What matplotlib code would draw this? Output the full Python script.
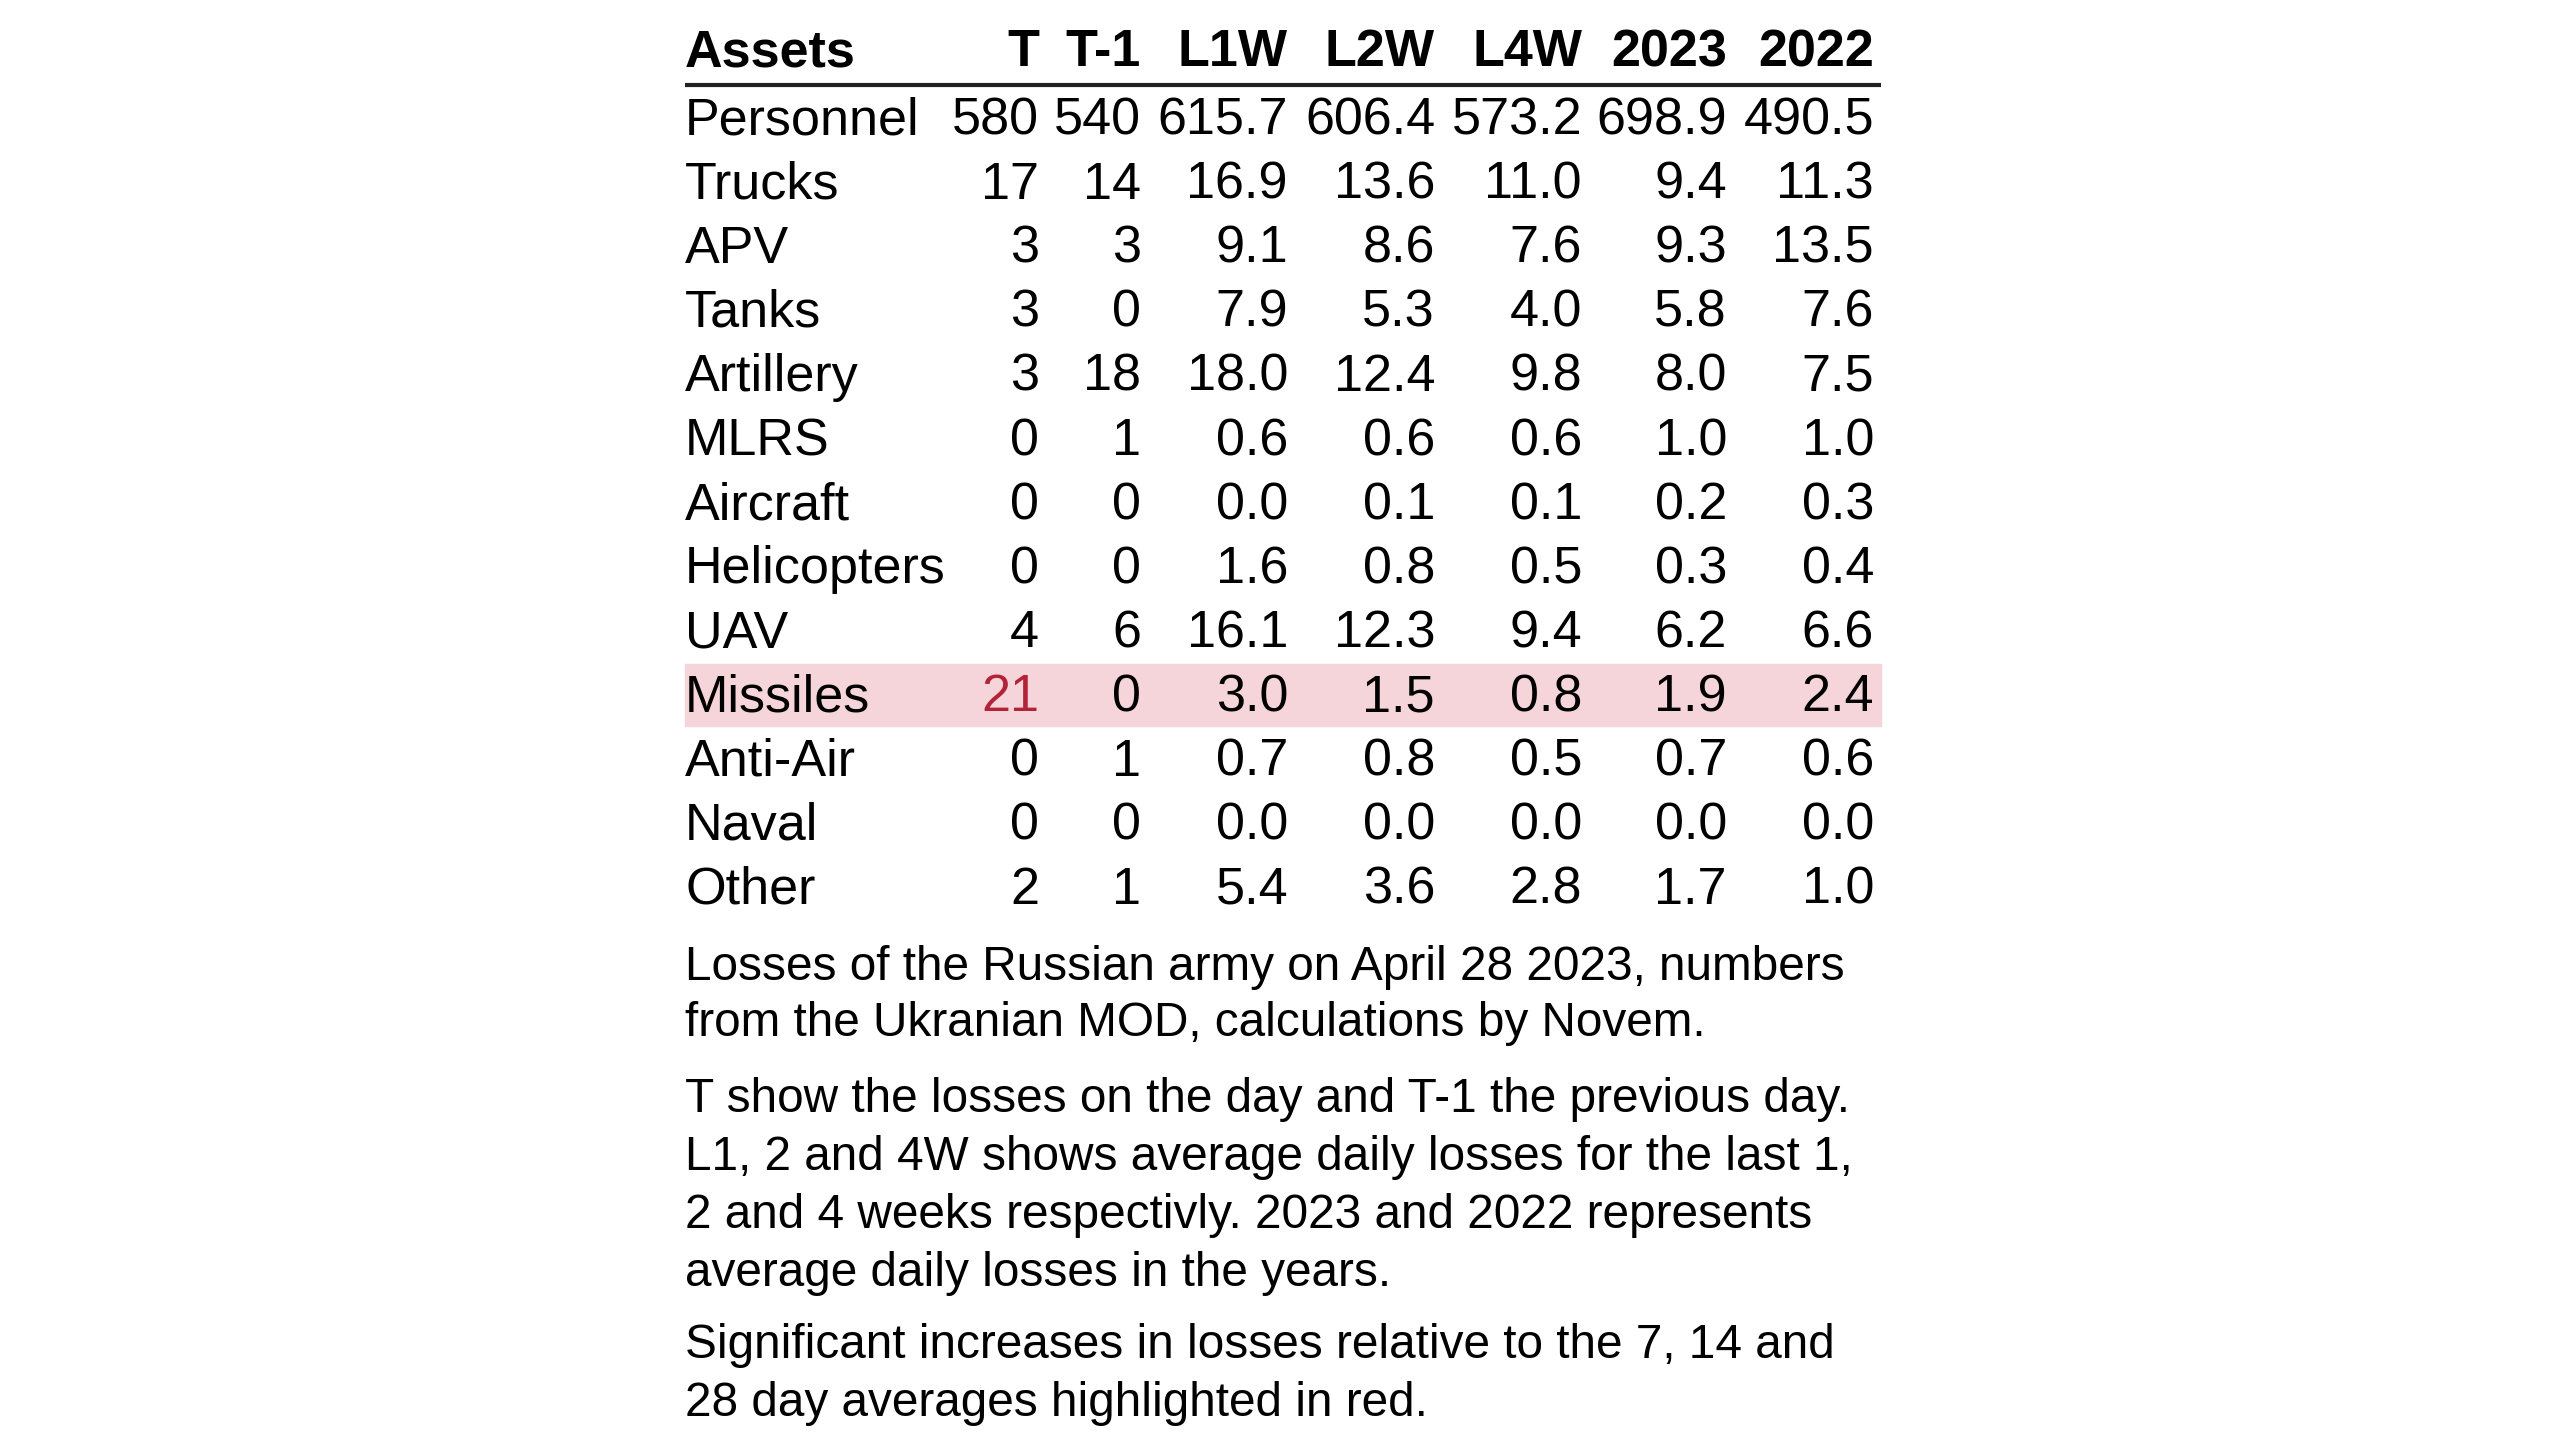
import matplotlib
matplotlib.use("Agg")
import matplotlib.pyplot as plt
from matplotlib.patches import Rectangle

# table data
assets = ["Personnel", "Trucks", "APV", "Tanks", "Artillery", "MLRS", "Aircraft",
          "Helicopters", "UAV", "Missiles", "Anti-Air", "Naval", "Other"]
col_labels = ["T", "T-1", "L1W", "L2W", "L4W", "2023", "2022"]
t_day = [580, 17, 3, 3, 3, 0, 0, 0, 4, 21, 0, 0, 2]
t_prev = [540, 14, 3, 0, 18, 1, 0, 0, 6, 0, 1, 0, 1]
l1w = [615.7, 16.9, 9.1, 7.9, 18.0, 0.6, 0.0, 1.6, 16.1, 3.0, 0.7, 0.0, 5.4]
l2w = [606.4, 13.6, 8.6, 5.3, 12.4, 0.6, 0.1, 0.8, 12.3, 1.5, 0.8, 0.0, 3.6]
l4w = [573.2, 11.0, 7.6, 4.0, 9.8, 0.6, 0.1, 0.5, 9.4, 0.8, 0.5, 0.0, 2.8]
y2023 = [698.9, 9.4, 9.3, 5.8, 8.0, 1.0, 0.2, 0.3, 6.2, 1.9, 0.7, 0.0, 1.7]
y2022 = [490.5, 11.3, 13.5, 7.6, 7.5, 1.0, 0.3, 0.4, 6.6, 2.4, 0.6, 0.0, 1.0]
highlight_rows = ["Missiles"]
highlight_cells = [("Missiles", "T")]

notes = [
    ["Losses of the Russian army on April 28 2023, numbers",
     "from the Ukranian MOD, calculations by Novem."],
    ["T show the losses on the day and T-1 the previous day.",
     "L1, 2 and 4W shows average daily losses for the last 1,",
     "2 and 4 weeks respectivly. 2023 and 2022 represents",
     "average daily losses in the years."],
    ["Significant increases in losses relative to the 7, 14 and",
     "28 day averages highlighted in red."],
]

plt.rcParams['font.family'] = ['Liberation Sans', 'DejaVu Sans']

fig = plt.figure(figsize=(25.6, 14.4), dpi=100)
ax = fig.add_axes([0, 0, 1, 1])
ax.set_xlim(0, 2560)
ax.set_ylim(1440, 0)
ax.axis("off")

left, right = 685, 1881
col_right = [1039, 1141, 1288, 1435, 1582, 1727, 1874]
header_y = 53
row_y0, row_h = 121, 64.1
fs = 37.5
red = "#B22338"

ax.text(left, header_y, "Assets", fontsize=fs, fontweight="bold", va="center", ha="left")
for x, lab in zip(col_right, col_labels):
    ax.text(x, header_y, lab, fontsize=fs, fontweight="bold", va="center", ha="right")
ax.plot([left, right], [85, 85], color="#222222", lw=3, solid_capstyle="butt")

columns = [
    [str(v) for v in t_day],
    [str(v) for v in t_prev],
    [f"{v:.1f}" for v in l1w],
    [f"{v:.1f}" for v in l2w],
    [f"{v:.1f}" for v in l4w],
    [f"{v:.1f}" for v in y2023],
    [f"{v:.1f}" for v in y2022],
]

for i, name in enumerate(assets):
    y = row_y0 + i * row_h
    if name in highlight_rows:
        ax.add_patch(Rectangle((left, y - row_h / 2 - 2), right - left, row_h - 2,
                               color="#F6D5DA", zorder=0))
    ax.text(left, y, name, fontsize=fs, va="center", ha="left")
    for j, x in enumerate(col_right):
        c = red if (name, col_labels[j]) in highlight_cells else "black"
        ax.text(x, y, columns[j][i], fontsize=fs, va="center", ha="right", color=c)

note_y = [[967, 1023], [1099, 1157, 1215, 1273], [1345, 1403]]
for ys, lines in zip(note_y, notes):
    for y, line in zip(ys, lines):
        ax.text(left, y, line, fontsize=34.4, va="center", ha="left")

fig.savefig("out.png", dpi=100)
